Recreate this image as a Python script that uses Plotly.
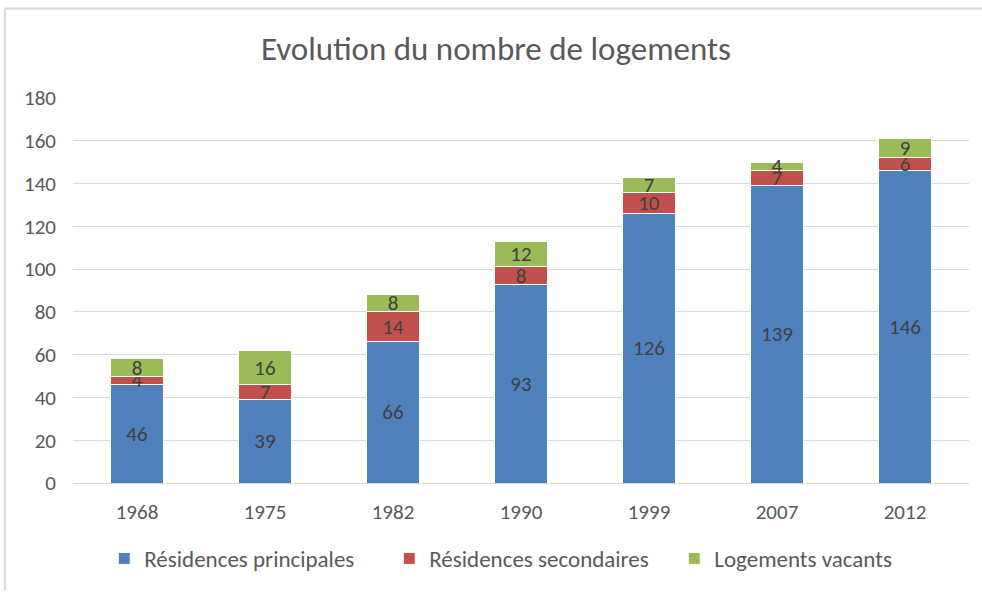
import plotly.graph_objects as go

years = ["1968", "1975", "1982", "1990", "1999", "2007", "2012"]
principales = [46, 39, 66, 93, 126, 139, 146]
secondaires = [4, 7, 14, 8, 10, 7, 6]
vacants = [8, 16, 8, 12, 7, 4, 9]

series = [
    ("Résidences principales", principales, "#4F81BD"),
    ("Résidences secondaires", secondaires, "#C0504D"),
    ("Logements vacants", vacants, "#9BBB59"),
]

font = "Calibri, Carlito, Lato, sans-serif"

fig = go.Figure()
for name, values, color in series:
    fig.add_trace(
        go.Bar(
            x=years,
            y=values,
            name=name,
            marker=dict(color=color, line=dict(color="white", width=1)),
            text=values,
            textposition="inside",
            insidetextanchor="middle",
            textangle=0,
            constraintext="none",
            textfont=dict(size=21, color="#404040", family=font),
        )
    )

# plot area: x 73..969, y 98..485 (pixels)
fig.update_layout(
    barmode="stack",
    bargap=0.59,
    width=982,
    height=592,
    margin=dict(l=73, r=13, t=98, b=107),
    paper_bgcolor="white",
    plot_bgcolor="white",
    font=dict(family=font, color="#595959"),
    title=dict(
        text="Evolution du nombre de logements",
        x=0.505,
        xanchor="center",
        y=0.919,
        yanchor="middle",
        font=dict(size=33, color="#595959", family=font),
    ),
    legend=dict(
        orientation="h",
        x=0.512,
        xanchor="center",
        y=-0.196,
        yanchor="middle",
        font=dict(size=23, color="#595959", family=font),
        traceorder="normal",
        itemwidth=30,
        entrywidthmode="pixels",
        entrywidth=240,
    ),
    xaxis=dict(
        showgrid=False,
        showline=True,
        linecolor="#D9D9D9",
        tickfont=dict(size=21, color="#595959"),
        ticks="",
        ticklabelstandoff=10,
    ),
    yaxis=dict(
        range=[0, 180],
        dtick=20,
        showgrid=True,
        gridcolor="#D9D9D9",
        zeroline=False,
        tickfont=dict(size=21, color="#595959"),
        ticklabelstandoff=16,
    ),
    shapes=[
        dict(type="line", xref="paper", yref="paper", x0=-0.076, x1=1.02,
             y0=1.2326, y1=1.2326, line=dict(color="#D9D9D9", width=2)),
        dict(type="line", xref="paper", yref="paper", x0=-0.076, x1=-0.076,
             y0=-0.28, y1=1.2326, line=dict(color="#D9D9D9", width=2)),
    ],
)

fig.write_html(
    "out.html",
    config={"displayModeBar": False},
    post_script="document.body.style.margin='0';",
)
